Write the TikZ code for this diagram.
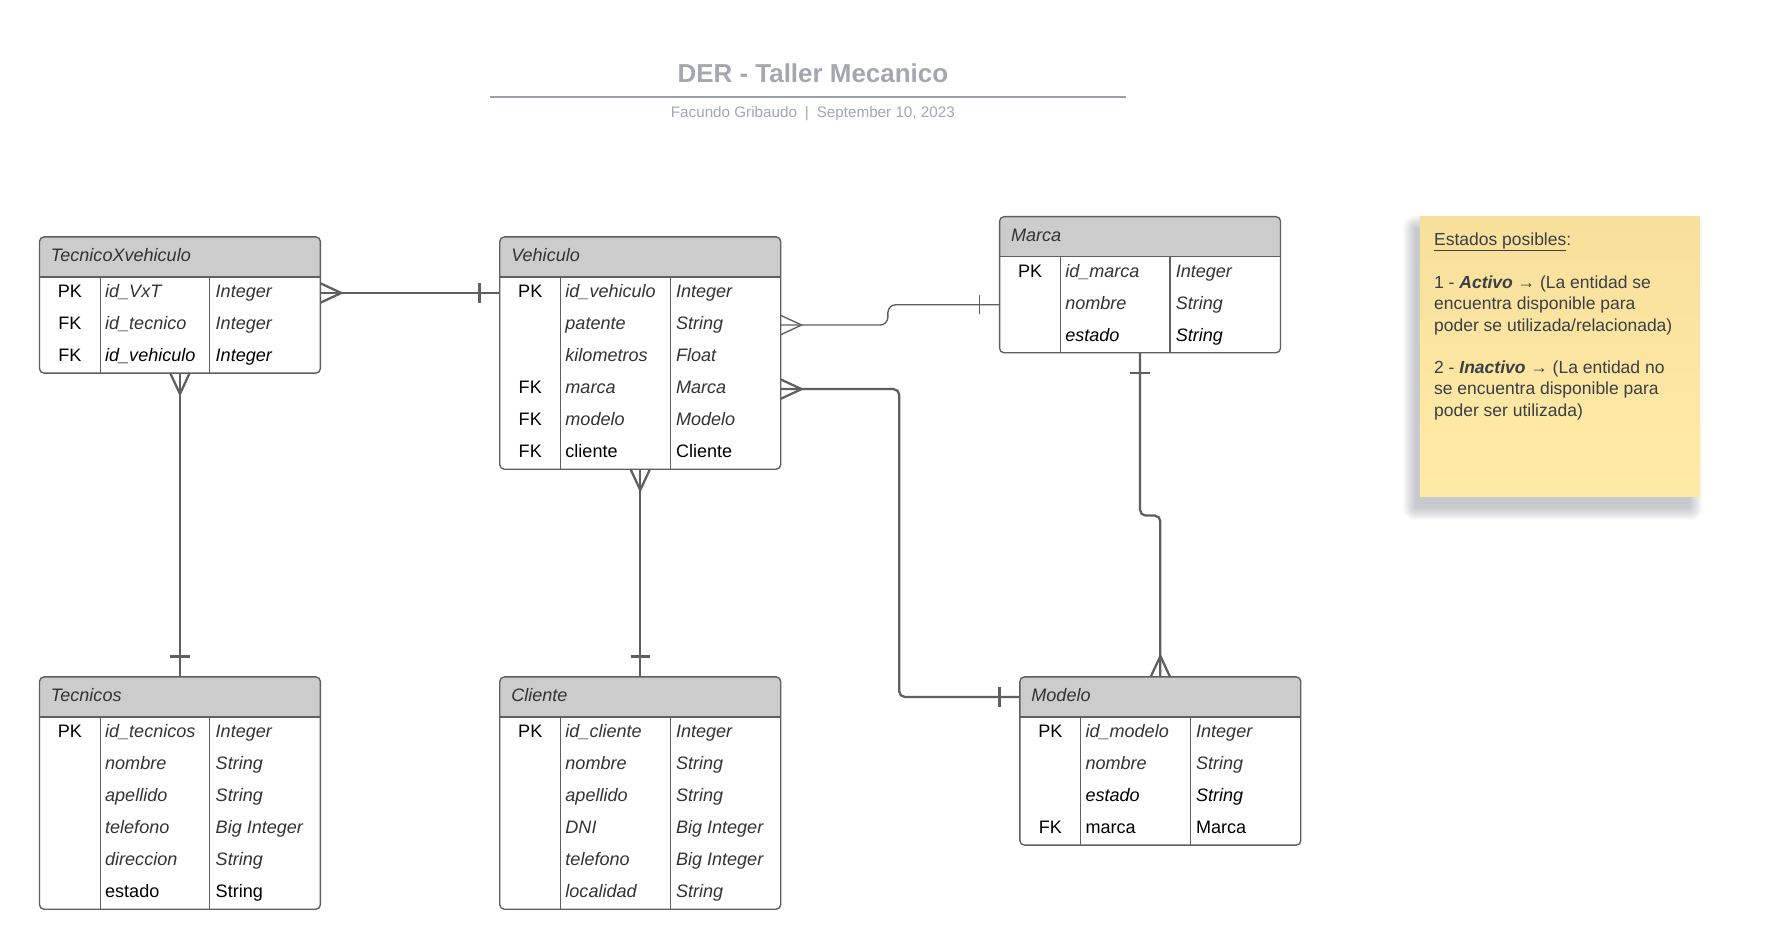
\documentclass[tikz,border=0pt]{standalone}
\usepackage{fontspec}
\setmainfont{Liberation Sans}
\usetikzlibrary{calc}
\definecolor{headfill}{HTML}{CCCCCC}
\definecolor{bordergray}{HTML}{5F5F5F}
\definecolor{conngray}{HTML}{5F5F5F}
\definecolor{txtgray}{HTML}{333333}
\definecolor{titlegray}{HTML}{A3A7AF}
\definecolor{notetop}{HTML}{F8E09B}
\definecolor{notebot}{HTML}{FEEAA7}
\definecolor{notecol}{HTML}{3A3F45}
\definecolor{shadowcol}{HTML}{4A5262}

\newcommand\erfont{\fontsize{16}{19}\selectfont}
\newcommand\notefont{\fontsize{15.5}{19.1}\selectfont}

\tikzset{
  conn/.style={draw=conngray, line width=2pt},
  connthin/.style={draw=conngray, line width=1.2pt},
  tborder/.style={draw=bordergray, line width=1.2pt, rounded corners=4pt},
  tline/.style={draw=bordergray, line width=1.1pt},
  tbox/.style={rectangle, fill=white, minimum width=249pt, inner sep=0pt, outer sep=0pt},
  celltxt/.style={inner sep=0pt, text height=11.5pt, text depth=3.4pt, font=\erfont},
  gi/.style={celltxt, text=txtgray, font=\erfont\itshape},
  bi/.style={celltxt, text=black, font=\erfont\itshape},
  bn/.style={celltxt, text=black},
  keytxt/.style={celltxt, text=black},
  headtxt/.style={celltxt, text=txtgray, font=\erfont\itshape},
  notetext/.style={anchor=base west, inner sep=0pt, text=notecol, font=\notefont},
  notebox/.style={rectangle, inner sep=0pt, outer sep=0pt, top color=notetop, bottom color=notebot},
  shadowlayer/.style={fill=shadowcol, opacity=0.026},
}

% #1 name, #2 x, #3 y (top), #4 title, #5 number of rows, #6 rows
\newcommand\ertable[6]{%
  \pgfmathsetmacro\erH{35.5+#5*28.4}%
  \node[tbox, minimum height=\erH pt, anchor=north west] (#1) at (#2,#3) {};
  \begin{scope}
    \clip[rounded corners=4pt] (#1.north west) rectangle (#1.south east);
    \fill[headfill] (#1.north west) rectangle ($(#1.north east)+(0,35.5)$);
  \end{scope}
  \draw[tline] ($(#1.north west)+(0,35.5)$) -- ($(#1.north east)+(0,35.5)$);
  \draw[tline] ($(#1.north west)+(54,35.5)$) -- ($(#1.south west)+(54,0)$);
  \draw[tline] ($(#1.north west)+(151,35.5)$) -- ($(#1.south west)+(151,0)$);
  \draw[tborder] (#1.north west) rectangle (#1.south east);
  \node[headtxt, anchor=west] (#1-t) at ($(#1.north west)+(10,17.75)$) {#4};
  \foreach \ka/\na/\ta/\sa [count=\ia] in {#6} {
    \node[keytxt] (#1-k\ia) at ($(#1.north west)+(27,{35.5+(\ia-0.5)*28.4})$) {\ka};
    \node[\sa, anchor=west] (#1-n\ia) at ($(#1.north west)+(58,{35.5+(\ia-0.5)*28.4})$) {\na};
    \node[\sa, anchor=west] (#1-y\ia) at ($(#1.north west)+(156,{35.5+(\ia-0.5)*28.4})$) {\ta};
  }
}

% crow's foot: #1 style, #2 point, #3 #4 outward direction
\newcommand\crowfoot[4][conn]{%
  \draw[#1] ($(#2)+({-8.6*(#4)},{8.6*(#3)})$) -- ($(#2)+({18.5*(#3)},{18.5*(#4)})$)
    -- ($(#2)+({8.6*(#4)},{-8.6*(#3)})$);
}
% single bar: #1 style, #2 point, #3 #4 outward direction
\newcommand\onebar[4][conn]{%
  \draw[#1] ($(#2)+({18*(#3)-8.6*(#4)},{18*(#4)+8.6*(#3)})$) --
    ($(#2)+({18*(#3)+8.6*(#4)},{18*(#4)-8.6*(#3)})$);
}

\begin{document}
\begin{tikzpicture}[x=1pt, y=-1pt]
\fill[white] (0,0) rectangle (1568,841);
\useasboundingbox (0,0) rectangle (1568,841);

% title block
\node[anchor=base, inner sep=0pt, text=titlegray, font=\fontsize{23}{27}\selectfont\bfseries] (title) at (720.5,73.2) {DER - Taller Mecanico};
\coordinate (tl1) at (434,86);
\coordinate (tl2) at (998,86);
\draw[draw=titlegray!95!black, line width=1.8pt] (tl1) -- (tl2);
\node[anchor=base, inner sep=0pt, text=titlegray, font=\fontsize{13.5}{16}\selectfont] (subtitle) at (720.5,104.3)
  {Facundo Gribaudo\hspace{7pt}|\hspace{7pt}September 10, 2023};

% tables
\ertable{tx}{35}{210}{TecnicoXvehiculo}{3}{PK/id\_VxT/Integer/gi, FK/id\_tecnico/Integer/gi, FK/id\_vehiculo/Integer/bi}
\ertable{veh}{443}{210}{Vehiculo}{6}{PK/id\_vehiculo/Integer/gi, /patente/String/gi, /kilometros/Float/gi, FK/marca/Marca/gi, FK/modelo/Modelo/gi, FK/cliente/Cliente/bn}
\ertable{mar}{886}{192}{Marca}{3}{PK/id\_marca/Integer/gi, /nombre/String/gi, /estado/String/bi}
\ertable{tec}{35}{600}{Tecnicos}{6}{PK/id\_tecnicos/Integer/gi, /nombre/String/gi, /apellido/String/gi, /telefono/Big Integer/gi, /direccion/String/gi, /estado/String/bn}
\ertable{cli}{443}{600}{Cliente}{6}{PK/id\_cliente/Integer/gi, /nombre/String/gi, /apellido/String/gi, /DNI/Big Integer/gi, /telefono/Big Integer/gi, /localidad/String/gi}
\ertable{mod}{904}{600}{Modelo}{4}{PK/id\_modelo/Integer/gi, /nombre/String/gi, /estado/String/bi, FK/marca/Marca/bn}

% connectors
% TecnicoXvehiculo -- Vehiculo
\coordinate (p1a) at (tx.east |- tx-n1.west);
\coordinate (p1b) at (veh.west |- tx-n1.west);
\draw[conn] (p1a) -- (p1b);
\crowfoot{p1a}{1}{0}
\onebar{p1b}{-1}{0}

% TecnicoXvehiculo -- Tecnicos
\draw[conn] (tx.south) -- (tec.north);
\crowfoot{tx.south}{0}{1}
\onebar{tec.north}{0}{-1}

% Vehiculo -- Cliente
\draw[conn] (veh.south) -- (cli.north);
\crowfoot{veh.south}{0}{1}
\onebar{cli.north}{0}{-1}

% Vehiculo -- Marca
\coordinate (p4a) at (veh.east |- veh-n2.west);
\coordinate (p4b) at (mar.west |- mar-n2.west);
\draw[connthin, rounded corners=7pt] (p4a) -- (787,0 |- p4a) -- (787,0 |- p4b) -- (p4b);
\crowfoot[connthin]{p4a}{1}{0}
\onebar[connthin]{p4b}{-1}{0}

% Vehiculo -- Modelo
\coordinate (p5a) at (veh.east |- veh-n4.west);
\coordinate (p5b) at (mod.west |- mod-t.west);
\draw[conn, rounded corners=5pt] (p5a) -- (797,0 |- p5a) -- (797,0 |- p5b) -- (p5b);
\crowfoot{p5a}{1}{0}
\onebar{p5b}{-1}{0}

% Marca -- Modelo
\draw[conn, rounded corners=5pt] (mar.south) -- (mar.south |- 0,457) -- (mod.north |- 0,457) -- (mod.north);
\onebar{mar.south}{0}{1}
\crowfoot{mod.north}{0}{-1}

% sticky note with soft shadow
\coordinate (nnw) at (1258.6,192);
\coordinate (nse) at (1506.8,440);
\foreach \e in {0,...,11} {
  \fill[shadowlayer, rounded corners=\e pt] ($(nnw)+({-4-\e},{10-\e})$) rectangle ($(nse)+({-9+\e},{10+\e})$);
}
\node[notebox, anchor=north west, minimum width=248.2pt, minimum height=248pt] (note) at (nnw) {};
\node[notetext] (nl1) at (1271,217.6) {\underline{Estados posibles}:};
\node[notetext] (nl2) at (1271,255.7) {1 - \textbf{\textit{Activo}} → (La entidad se};
\node[notetext] (nl3) at (1271,274.6) {encuentra disponible para};
\node[notetext] (nl4) at (1271,293.7) {poder se utilizada/relacionada)};
\node[notetext] (nl5) at (1271,331.1) {2 - \textbf{\textit{Inactivo}} → (La entidad no};
\node[notetext] (nl6) at (1271,350.1) {se encuentra disponible para};
\node[notetext] (nl7) at (1271,369.4) {poder ser utilizada)};
\end{tikzpicture}
\end{document}
